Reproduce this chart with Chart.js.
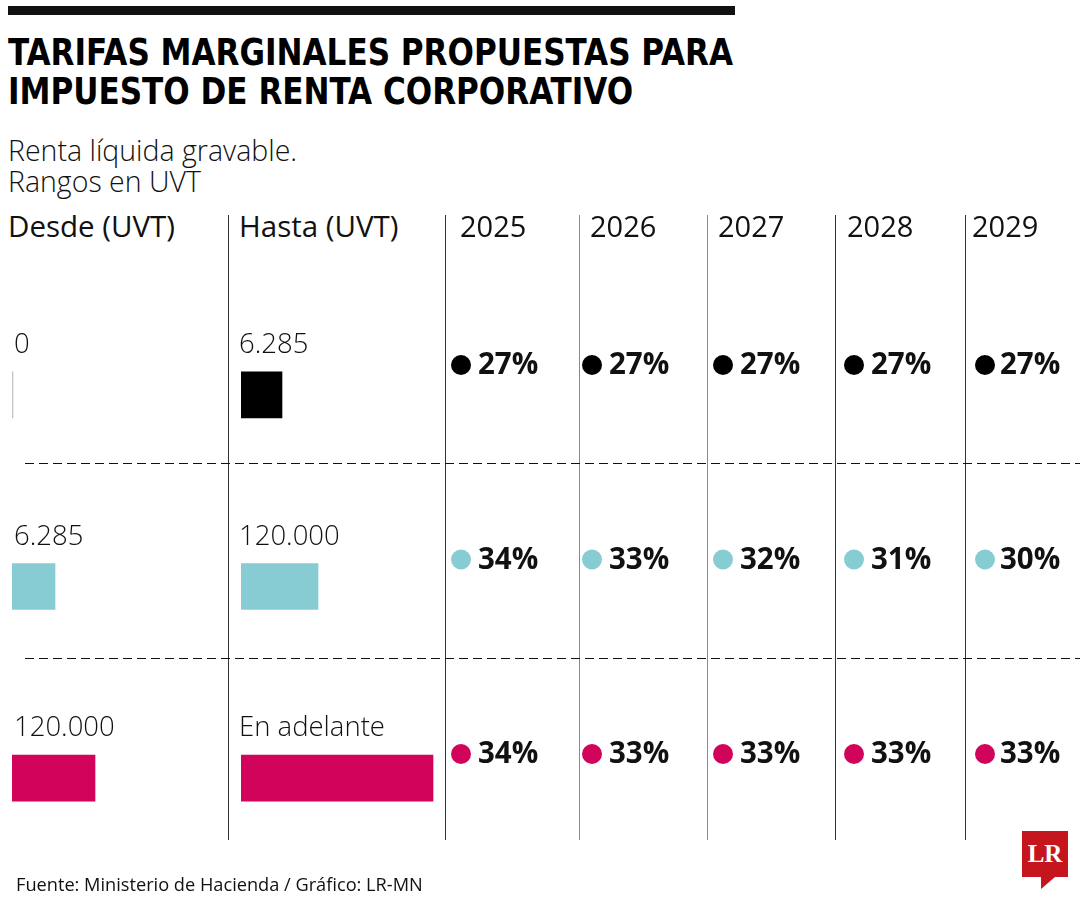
<!DOCTYPE html>
<html lang="es">
<head>
<meta charset="utf-8">
<title>Tarifas marginales propuestas</title>
<script src="https://cdn.jsdelivr.net/npm/chart.js@4.4.1/dist/chart.umd.min.js"></script>
<style>
  html, body { margin: 0; padding: 0; background: #fff; }
  #lienzo { position: relative; width: 1080px; height: 900px; overflow: hidden; font-family: 'Open Sans', sans-serif; color: #111; }
  .abs { position: absolute; }
  #barraTop { left: 8px; top: 6px; width: 727px; height: 9px; background: #111; }
  #titulo { left: 8px; top: 33px; font-family: 'Liberation Sans Narrow', 'DejaVu Sans Condensed', Roboto, sans-serif; font-weight: 700; font-size: 38px; line-height: 39px; white-space: nowrap; transform-origin: 0 0; color: #000; }
  #subtitulo { left: 8px; top: 135px; font-weight: 300; font-size: 28.5px; line-height: 31px; white-space: nowrap; }
  .encabezado { top: 210px; font-size: 29.5px; line-height: 32px; white-space: nowrap; }
  .vline { top: 215px; height: 625px; width: 1px; background: #333; }
  .vline.gris { background: #8a8a8a; }
  .dline { left: 25px; width: 1055px; height: 1px; background: repeating-linear-gradient(to right, #111 0 9px, transparent 9px 14px); }
  #fuente { left: 16px; top: 874px; font-size: 18.2px; line-height: 20px; white-space: nowrap; }
  #logo { left: 1022px; top: 831px; width: 46px; height: 46px; background: #c4161c; color: #fff; font-family: 'Liberation Serif', serif; font-weight: 700; font-size: 25px; line-height: 46px; text-align: center; }
  #logoCola { left: 1041px; top: 877px; width: 0; height: 0; border-left: 0 solid transparent; border-right: 14px solid transparent; border-top: 12px solid #c4161c; }
</style>
</head>
<body>
<div id="lienzo">
  <div id="barraTop" class="abs"></div>
  <div id="titulo" class="abs">TARIFAS MARGINALES PROPUESTAS PARA<br>IMPUESTO DE RENTA CORPORATIVO</div>
  <div id="subtitulo" class="abs">Renta líquida gravable.<br>Rangos en UVT</div>
  <div class="abs encabezado" style="left:8px">Desde (UVT)</div>
  <div class="abs encabezado" style="left:239px">Hasta (UVT)</div>

  <canvas id="chartDesde" class="abs" width="228" height="575" style="left:0;top:299px"></canvas>
  <canvas id="chartHasta" class="abs" width="217" height="575" style="left:228px;top:299px"></canvas>
  <canvas id="chartTarifas" class="abs" width="635" height="640" style="left:445px;top:200px"></canvas>

  <div class="abs vline" style="left:228px"></div>
  <div class="abs vline" style="left:445px"></div>
  <div class="abs vline gris" style="left:579px"></div>
  <div class="abs vline gris" style="left:707px"></div>
  <div class="abs vline" style="left:835px"></div>
  <div class="abs vline" style="left:965px"></div>
  <div class="abs dline" style="top:463px"></div>
  <div class="abs dline" style="top:658px"></div>

  <div id="fuente" class="abs">Fuente: Ministerio de Hacienda / Gráfico: LR-MN</div>
  <div id="logo" class="abs">LR</div>
  <div id="logoCola" class="abs"></div>
</div>

<script>
// datos del grafico
const filas = ['Tramo 1', 'Tramo 2', 'Tramo 3'];
const desdeTexto = ['0', '6.285', '120.000'];
const hastaTexto = ['6.285', '120.000', 'En adelante'];
// largo de las barritas (unidad ilustrativa del grafico original)
const desdeBarra = [0, 43, 83];
const hastaBarra = [41, 77, 192];
const anios = ['2025', '2026', '2027', '2028', '2029'];
const tarifaTramo1 = [27, 27, 27, 27, 27];
const tarifaTramo2 = [34, 33, 32, 31, 30];
const tarifaTramo3 = [34, 33, 33, 33, 33];
const coloresTramo = ['#000000', '#87ccd3', '#d2035b'];

// posicion x de los encabezados de año (van pegados a cada columna)
const xEncabezadoAnio = [460, 590, 718, 847, 972];
const lienzo = document.getElementById('lienzo');
anios.forEach((anio, j) => {
  const el = document.createElement('div');
  el.className = 'abs encabezado';
  el.style.left = xEncabezadoAnio[j] + 'px';
  el.style.fontSize = '29px';
  el.textContent = anio;
  lienzo.appendChild(el);
});

// el titulo es condensado, lo ajustamos al ancho de la barra negra
const titulo = document.getElementById('titulo');
const anchoTitulo = titulo.getBoundingClientRect().width;
titulo.style.transform = 'scaleX(' + (725 / anchoTitulo) + ')';

// texto encima de cada barra
const textoBarras = {
  id: 'textoBarras',
  afterDatasetsDraw(chart, args, opts) {
    const ctx = chart.ctx;
    const meta = chart.getDatasetMeta(0);
    ctx.save();
    ctx.font = "300 27.5px 'Open Sans'";
    ctx.fillStyle = '#111';
    ctx.textBaseline = 'alphabetic';
    meta.data.forEach((barra, i) => {
      ctx.fillText(opts.textos[i], chart.chartArea.left + opts.corrimiento, barra.y - barra.height / 2 - 19);
    });
    ctx.restore();
  }
};

function chartRangos(idCanvas, valores, textos, relleno, corrimiento) {
  new Chart(document.getElementById(idCanvas), {
    type: 'bar',
    data: {
      labels: filas,
      datasets: [{
        data: valores,
        // el cero sale como rayita gris
        backgroundColor: ctx => ctx.raw === 0 ? '#c4c4c4' : coloresTramo[ctx.dataIndex],
        barThickness: 46,
        minBarLength: 1,
        borderWidth: 0
      }]
    },
    options: {
      indexAxis: 'y',
      responsive: false,
      animation: false,
      layout: { padding: relleno },
      scales: {
        x: { display: false, min: 0, max: 200 },
        y: { display: false }
      },
      plugins: {
        legend: { display: false },
        tooltip: { enabled: false },
        textoBarras: { textos: textos, corrimiento: corrimiento }
      }
    },
    plugins: [textoBarras]
  });
}

chartRangos('chartDesde', desdeBarra, desdeTexto, { left: 12, right: 16, top: 0, bottom: 0 }, 2);
chartRangos('chartHasta', hastaBarra, hastaTexto, { left: 13, right: 4, top: 0, bottom: 0 }, -2);

// porcentaje al lado de cada punto
const textoTarifas = {
  id: 'textoTarifas',
  afterDatasetsDraw(chart) {
    const ctx = chart.ctx;
    ctx.save();
    ctx.fillStyle = '#111';
    ctx.font = "700 29.5px 'Open Sans'";
    ctx.textBaseline = 'middle';
    chart.data.datasets.forEach((ds, i) => {
      chart.getDatasetMeta(i).data.forEach((punto, j) => {
        // la ultima columna viene mas pegada en el original
        const sep = j === anios.length - 1 ? 15 : 17;
        ctx.fillText(ds.data[j].v + '%', punto.x + sep, punto.y + 1);
      });
    });
    ctx.restore();
  }
};

const tarifas = [tarifaTramo1, tarifaTramo2, tarifaTramo3];

new Chart(document.getElementById('chartTarifas'), {
  type: 'scatter',
  data: {
    datasets: filas.map((tramo, i) => ({
      data: anios.map((anio, j) => ({ x: anio, y: tramo, v: tarifas[i][j] })),
      backgroundColor: coloresTramo[i],
      borderWidth: 0,
      pointRadius: 10,
      pointHoverRadius: 10
    }))
  },
  options: {
    responsive: false,
    animation: false,
    layout: { padding: { left: 16, right: 95, top: 165, bottom: 86 } },
    scales: {
      x: { type: 'category', labels: anios, display: false, offset: false },
      y: { type: 'category', labels: filas, display: false, offset: false }
    },
    plugins: {
      legend: { display: false },
      tooltip: { enabled: false }
    }
  },
  plugins: [textoTarifas]
});
</script>
</body>
</html>
